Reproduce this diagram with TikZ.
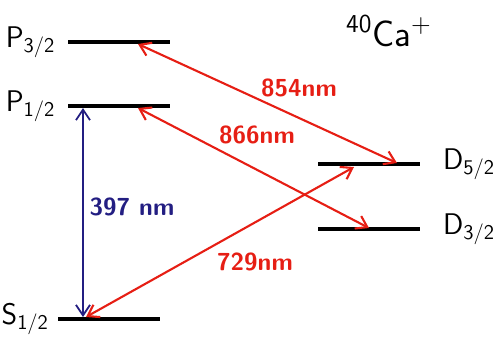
\documentclass[tikz,border=0pt]{standalone}
\usepackage{tikz}
\usetikzlibrary{arrows.meta}
\definecolor{laserred}{RGB}{230,30,20}
\definecolor{laserblue}{RGB}{35,30,130}

\tikzset{
  level/.style={line width=2.3pt, black},
  statelabel/.style={font=\sffamily\fontsize{17}{20}\selectfont, inner sep=1pt},
  redbeam/.style={<->, line width=1.2pt, laserred},
  bluebeam/.style={<->, line width=1pt, laserblue},
  wavelabel/.style={font=\sffamily\bfseries\fontsize{14}{16}\selectfont, inner sep=0pt}
}

\begin{document}
\begin{tikzpicture}[x=0.02cm, y=-0.02cm, >={Straight Barb[length=6pt,width=8pt]}]
  \useasboundingbox (0,0) rectangle (497,343);

  % End points of the energy levels
  \coordinate (P3l) at (68,42);   \coordinate (P3r) at (170,42);
  \coordinate (P1l) at (68,106);  \coordinate (P1r) at (170,106);
  \coordinate (Sl)  at (58,319);  \coordinate (Sr)  at (160,319);
  \coordinate (D5l) at (318,164); \coordinate (D5r) at (420,164);
  \coordinate (D3l) at (318,229); \coordinate (D3r) at (420,229);

  % Draw the levels
  \draw[level] (P3l) -- (P3r);
  \draw[level] (P1l) -- (P1r);
  \draw[level] (Sl) -- (Sr);
  \draw[level] (D5l) -- (D5r);
  \draw[level] (D3l) -- (D3r);

  % Label the levels
  \node[statelabel, left=6pt] (P3lab) at (P3l) {P\textsubscript{3/2}};
  \node[statelabel, left=6pt] (P1lab) at (P1l) {P\textsubscript{1/2}};
  \node[statelabel, left=4pt] (Slab) at (Sl) {S\textsubscript{1/2}};
  \node[statelabel, right=12pt] (D5lab) at (D5r) {D\textsubscript{5/2}};
  \node[statelabel, right=12pt] (D3lab) at (D3r) {D\textsubscript{3/2}};

  % The ion
  \node[font=\sffamily\fontsize{21}{24}\selectfont] (ion) at (389,31)
    {\textsuperscript{40}Ca\textsuperscript{+}};

  % Points where the transitions meet the levels
  \coordinate (a854) at (138,44);  \coordinate (b854) at (397,163);
  \coordinate (a866) at (138,108); \coordinate (b866) at (369,228);
  \coordinate (a729) at (86,317);  \coordinate (b729) at (354,167);
  \coordinate (a397) at (83,108);  \coordinate (b397) at (83,317);

  % Draw the transitions
  \draw[redbeam] (a854) -- (b854);
  \draw[redbeam] (a866) -- (b866);
  \draw[redbeam] (a729) -- (b729);
  \draw[bluebeam] (a397) -- (b397);

  % Wavelengths
  \node[wavelabel, laserred] (l854) at (299,88) {854nm};
  \node[wavelabel, laserred] (l866) at (257,135) {866nm};
  \node[wavelabel, laserred] (l729) at (255,262) {729nm};
  \node[wavelabel, laserblue] (l397) at (132,207) {397 nm};
\end{tikzpicture}
\end{document}
